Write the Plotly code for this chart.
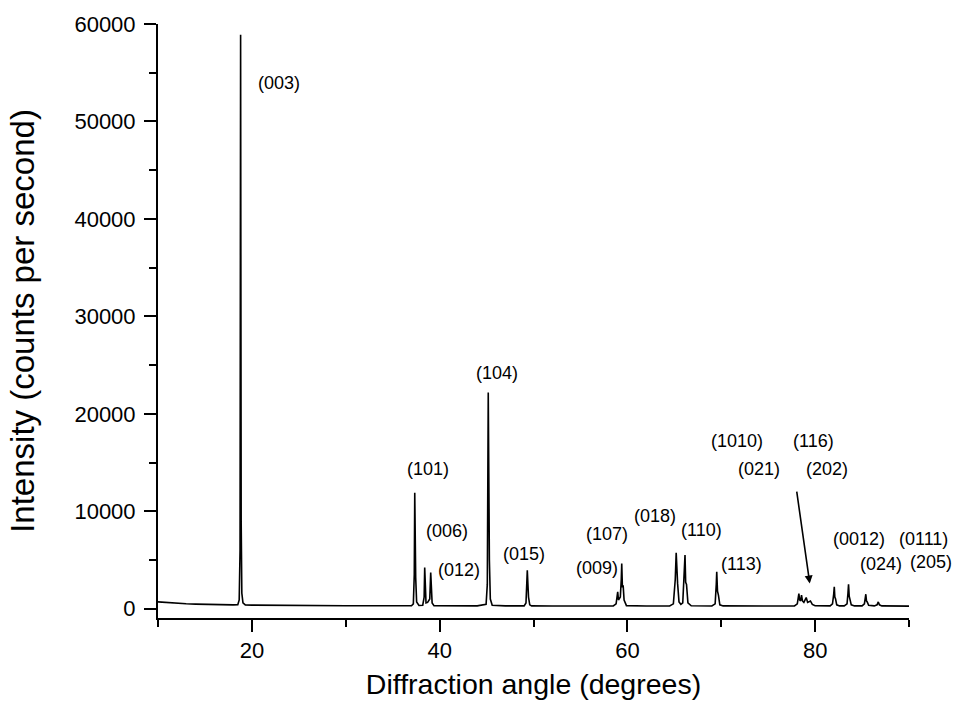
import plotly.graph_objects as go

# ---- data ----
two_theta = [
    10.0, 11.0, 12.0, 13.0, 14.0, 15.0, 16.0, 17.0, 18.0,
    18.5, 18.65, 18.74, 18.8, 18.86, 18.93, 19.05, 19.3,
    20.0, 22.0, 25.0, 30.0, 35.0,
    37.0, 37.2, 37.3, 37.35, 37.4, 37.45, 37.55, 37.8,
    38.2, 38.35, 38.41, 38.47, 38.55, 38.72,
    38.95, 39.05, 39.1, 39.2, 39.4,
    41.0, 44.0,
    44.95, 45.08, 45.18, 45.23, 45.3, 45.4, 45.6,
    47.0, 49.0,
    49.2, 49.3, 49.34, 49.4, 49.47, 49.6, 49.8,
    52.0, 55.0, 58.5,
    58.8, 58.97, 59.05, 59.25, 59.35, 59.4, 59.47, 59.55, 59.65, 59.9,
    62.0, 64.5,
    64.9, 65.1, 65.2, 65.27, 65.35, 65.5, 65.7,
    65.9, 66.05, 66.14, 66.21, 66.3, 66.45, 66.8,
    69.0, 69.35, 69.47, 69.52, 69.6, 69.7, 69.85, 70.2,
    75.0, 77.8,
    78.1, 78.2, 78.27, 78.35, 78.45, 78.55, 78.65, 78.8, 79.05, 79.2, 79.5, 79.7, 80.0,
    81.6, 81.85, 81.98, 82.04, 82.1, 82.18, 82.3, 82.6,
    83.1, 83.4, 83.5, 83.56, 83.63, 83.72, 83.85, 84.2,
    85.0, 85.25, 85.35, 85.4, 85.47, 85.55, 85.7,
    86.3, 86.6, 86.73, 86.85, 87.1,
    90.0,
]
intensity = [
    700, 620, 560, 510, 470, 440, 420, 405, 395,
    420, 900, 6000, 58900, 9000, 1600, 600, 400,
    375, 350, 330, 310, 300,
    305, 500, 3500, 11900, 6000, 3200, 700, 330,
    360, 1200, 4230, 2000, 600, 650,
    1000, 3720, 2000, 600, 320,
    300, 295,
    450, 2500, 22200, 14000, 5000, 1000, 350,
    290, 290,
    600, 2500, 3950, 2600, 1200, 400, 290,
    285, 280, 285,
    500, 1730, 900, 1200, 3000, 4640, 2200, 2400, 900, 320,
    280, 285,
    500, 3000, 5730, 2800, 2600, 700, 450,
    600, 3000, 5520, 2700, 2500, 600, 300,
    285, 500, 2500, 3780, 1800, 1400, 400, 290,
    280, 290,
    500, 1100, 1560, 900, 800, 1390, 800, 650, 1150, 650, 800, 450, 310,
    290, 500, 1500, 2240, 1200, 1000, 400, 290,
    290, 500, 1600, 2520, 1300, 1000, 400, 290,
    290, 500, 1000, 1490, 800, 700, 350,
    290, 400, 700, 400, 290,
    270,
]

# peak labels (Miller indices) and where they sit
label_text = ["(003)", "(101)", "(006)", "(012)", "(104)", "(015)", "(009)",
              "(107)", "(018)", "(110)", "(113)", "(1010)", "(116)", "(021)",
              "(202)", "(0012)", "(024)"]
label_x = [22.89, 38.77, 40.75, 42.06, 46.10, 48.98, 56.72,
           57.78, 62.93, 67.90, 72.16, 71.69, 79.84, 74.00,
           81.28, 84.65, 86.98]
label_y = [53920, 14385, 7950, 4020, 24160, 5590, 4230,
           7720, 9490, 8050, 4640, 17220, 17220, 14385,
           14385, 7200, 4570]

# labels right of the axis end (placed by axis-domain fraction)
outer_text = ["(0111)", "(205)"]
outer_xdomain = [1.0198, 1.029]
outer_y = [7200, 4840]

# arrow pointing to the (1010)/(116)/(021)/(202) cluster
arrow_tail = (78.02, 12160)
arrow_head = (79.43, 2590)

x_ticks = [20, 40, 60, 80]
y_ticks = [0, 10000, 20000, 30000, 40000, 50000, 60000]
y_tick_text = ["0", "10000", "20000", "30000", "40000", "50000", "60000"]

FONT = "Liberation Sans, Arial, sans-serif"

fig = go.Figure()
fig.add_trace(go.Scatter(
    x=two_theta, y=intensity, mode="lines",
    line=dict(color="black", width=1.6), showlegend=False,
    hoverinfo="skip",
))

annotations = []
for t, x, y in zip(label_text, label_x, label_y):
    annotations.append(dict(x=x, y=y, xref="x", yref="y", text=t, showarrow=False,
                            font=dict(family=FONT, size=18, color="black"),
                            xanchor="center", yanchor="middle"))
for t, x, y in zip(outer_text, outer_xdomain, outer_y):
    annotations.append(dict(x=x, y=y, xref="x domain", yref="y", text=t, showarrow=False,
                            font=dict(family=FONT, size=18, color="black"),
                            xanchor="center", yanchor="middle"))
annotations.append(dict(x=arrow_head[0], y=arrow_head[1], xref="x", yref="y",
                        ax=arrow_tail[0], ay=arrow_tail[1], axref="x", ayref="y",
                        text="", showarrow=True, arrowhead=2, arrowsize=1,
                        arrowwidth=1.6, arrowcolor="black"))

fig.update_layout(
    width=960, height=705,
    margin=dict(l=158, r=51, t=24, b=87, autoexpand=False),
    paper_bgcolor="white", plot_bgcolor="white",
    font=dict(family=FONT, color="black"),
    annotations=annotations,
    xaxis=dict(
        range=[10, 90], tickmode="array", tickvals=x_ticks,
        ticks="outside", ticklen=12, tickwidth=2, tickcolor="black",
        showline=True, linewidth=2, linecolor="black",
        showgrid=False, zeroline=False,
        tickfont=dict(family=FONT, size=22, color="black"),
        minor=dict(dtick=10, tick0=0, ticks="outside", ticklen=7, tickwidth=2,
                   tickcolor="black", showgrid=False),
        title=dict(text="Diffraction angle (degrees)",
                   font=dict(family=FONT, size=28.5, color="black"), standoff=12),
        automargin=False,
    ),
    yaxis=dict(
        range=[-950, 60000], tickmode="array", tickvals=y_ticks, ticktext=y_tick_text,
        ticks="outside", ticklen=12, tickwidth=2, tickcolor="black",
        ticklabelstandoff=4,
        showline=True, linewidth=2, linecolor="black",
        showgrid=False, zeroline=False,
        tickfont=dict(family=FONT, size=22, color="black"),
        minor=dict(dtick=5000, tick0=0, ticks="outside", ticklen=7, tickwidth=2,
                   tickcolor="black", showgrid=False),
        title=dict(text="Intensity (counts per second)",
                   font=dict(family=FONT, size=33, color="black"), standoff=30),
        automargin=False,
    ),
)

fig.write_html("out.html", config={"displayModeBar": False},
               post_script="document.body.style.margin='0px';")
